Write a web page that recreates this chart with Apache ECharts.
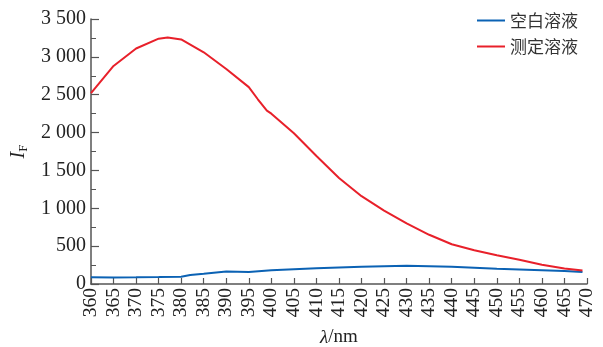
<!DOCTYPE html>
<html><head><meta charset="utf-8">
<script src="https://cdn.jsdelivr.net/npm/echarts@6/dist/echarts.min.js"></script>
<style>html,body{margin:0;padding:0;background:#fff}#c{width:603px;height:347px}</style>
</head><body><div id="c"></div>
<script>
var seriesNames = ['空白溶液', '测定溶液'];
var blankX = [360, 365, 370, 375, 380, 382, 385, 390, 395, 400, 405, 410, 415, 420, 425, 430, 435, 440, 445, 450, 455, 460, 465, 469];
var blankY = [88, 87, 88, 92, 97, 120, 135, 165, 160, 180, 195, 208, 218, 228, 236, 240, 236, 228, 215, 203, 193, 183, 172, 160];
var sampleX = [360, 365, 370, 375, 377, 380, 385, 390, 395, 397, 399, 400, 405, 410, 415, 420, 425, 430, 435, 440, 445, 450, 455, 460, 465, 469];
var sampleY = [2520, 2880, 3110, 3240, 3255, 3230, 3060, 2840, 2600, 2440, 2290, 2250, 1990, 1690, 1400, 1160, 970, 800, 650, 525, 445, 380, 320, 255, 205, 178];
var xMin = 360, xMax = 470, xStep = 5;
var yMin = 0, yMax = 3500, yStep = 500;

function pairs(xs, ys) { return xs.map(function (x, i) { return [x, ys[i]]; }); }
function fmt(v) { var s = String(v); return s.length > 3 ? s.slice(0, s.length - 3) + ' ' + s.slice(-3) : s; }

var chart = echarts.init(document.getElementById('c'), null, {renderer: 'canvas'});
var axisColor = '#555';
chart.setOption({
  animation: false,
  backgroundColor: '#fff',
  grid: {left: 91, right: 16, top: 19, bottom: 63, containLabel: false, outerBoundsMode: 'none'},
  legend: {
    orient: 'vertical', right: 20, top: 7, itemWidth: 28, itemHeight: 2, itemGap: 9,
    icon: 'rect',
    textStyle: {fontFamily: 'Noto Sans CJK SC', fontSize: 17, color: '#333'},
    data: seriesNames
  },
  xAxis: {
    type: 'value', min: xMin, max: xMax, interval: xStep,
    name: '{i|λ}/nm', nameLocation: 'middle', nameGap: 44,
    nameTextStyle: {fontFamily: 'Liberation Serif', fontSize: 19, color: '#222',
      rich: {i: {fontFamily: 'Liberation Serif', fontStyle: 'italic', fontSize: 19, color: '#222'}}},
    axisLine: {show: true, lineStyle: {color: axisColor, width: 1.5}},
    axisTick: {show: true, inside: true, length: 6, lineStyle: {color: axisColor, width: 1.2}},
    axisLabel: {rotate: 90, fontFamily: 'Liberation Serif', fontSize: 19.5, color: '#222', margin: 4},
    splitLine: {show: false}
  },
  yAxis: {
    type: 'value', min: yMin, max: yMax, interval: yStep,
    name: '{i|I}{s|F}', nameLocation: 'middle', nameGap: 54, nameRotate: 90,
    nameTextStyle: {rich: {
      i: {fontFamily: 'Liberation Serif', fontStyle: 'italic', fontSize: 20, color: '#222'},
      s: {fontFamily: 'Liberation Serif', fontSize: 13, color: '#222', verticalAlign: 'bottom', padding: [10, 0, 0, 0]}
    }},
    axisLine: {show: true, lineStyle: {color: axisColor, width: 1.5}},
    axisTick: {show: true, inside: true, length: 8, lineStyle: {color: axisColor, width: 1.2}},
    minorTick: {show: true, splitNumber: 2, length: 5, lineStyle: {color: axisColor, width: 1}},
    axisLabel: {fontFamily: 'Liberation Serif', fontSize: 20, color: '#222', margin: 5,
      formatter: function (v) { return fmt(v); }},
    splitLine: {show: false}
  },
  series: [
    {name: seriesNames[0], type: 'line', data: pairs(blankX, blankY), showSymbol: false, symbol: 'none',
      lineStyle: {color: '#0b62b4', width: 2}, itemStyle: {color: '#0b62b4'}},
    {name: seriesNames[1], type: 'line', data: pairs(sampleX, sampleY), showSymbol: false, symbol: 'none',
      lineStyle: {color: '#e8202a', width: 2}, itemStyle: {color: '#e8202a'}}
  ]
});
</script></body></html>
